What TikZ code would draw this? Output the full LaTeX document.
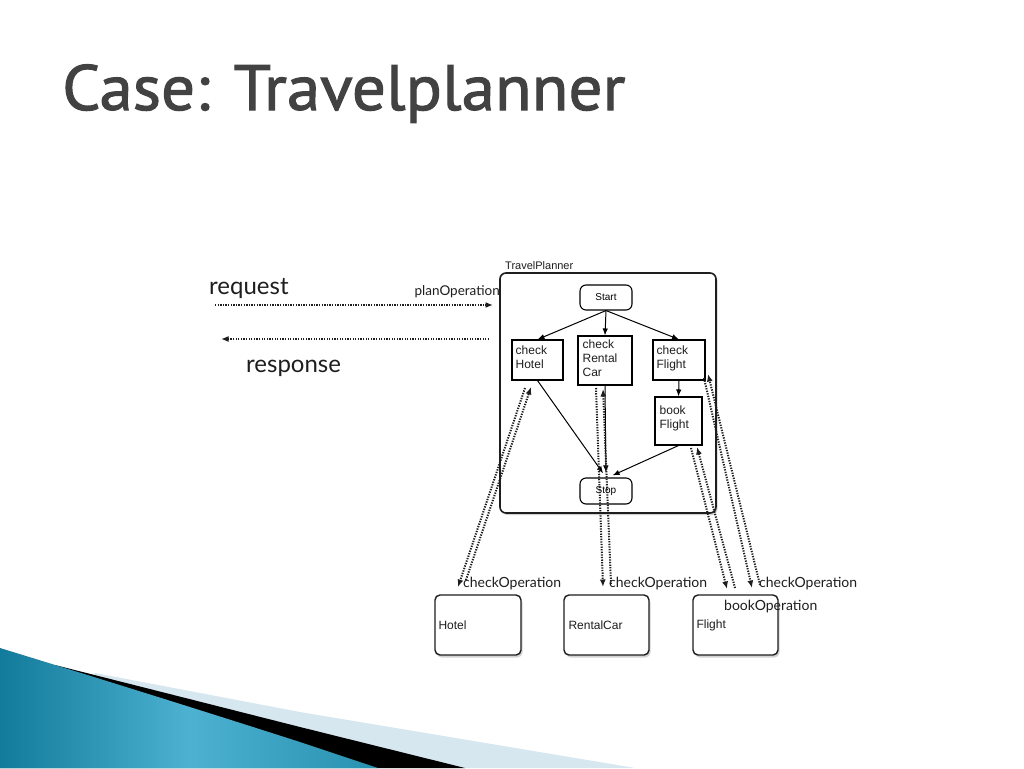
\documentclass[tikz,border=0pt]{standalone}
\usepackage{fontspec}
\setmainfont{Liberation Sans}
\newfontfamily\gill{Lato}
\newfontfamily\titlefont[FakeBold=1.6,FakeStretch=1.05]{PT Sans}
\usetikzlibrary{arrows.meta,shadows,calc}
\definecolor{titlegray}{HTML}{424242}
\definecolor{inkgray}{HTML}{1E1E1E}
\definecolor{lightband}{HTML}{D6E7F0}
\definecolor{tealdark}{HTML}{127A9A}
\definecolor{teallight}{HTML}{4DB2D2}
\definecolor{tealmid}{HTML}{2890B0}
\tikzset{
  outerbox/.style={draw=inkgray, line width=1.6pt, rounded corners=6pt, fill=white,
    drop shadow={shadow xshift=1.5pt, shadow yshift=-2pt, opacity=0.35}, inner sep=0},
  stepbox/.style={draw=black, line width=1.1pt, fill=white, inner sep=0},
  roundbox/.style={draw=black, line width=1.1pt, fill=white, rounded corners=6pt, inner sep=0},
  servbox/.style={draw=inkgray, line width=1.4pt, fill=white, rounded corners=5pt, inner sep=0,
    drop shadow={shadow xshift=1.5pt, shadow yshift=-2.5pt, opacity=0.35}},
  intext/.style={font=\fontsize{12}{14}\selectfont, text=inkgray, align=left, inner sep=0},
  optext/.style={font=\gill\fontsize{14}{16}\selectfont, text=inkgray, inner sep=0},
  sarr/.style={-{Latex[length=7pt,width=5.5pt]}, line width=1pt, draw=black},
  dotarr/.style={-{Latex[length=7.5pt,width=6pt]}, line width=2pt, draw=inkgray,
    dash pattern=on 1.3pt off 1.3pt},
}
\begin{document}
\begin{tikzpicture}[x=1pt,y=-1pt]
\useasboundingbox (0,0) rectangle (1024,768);
\fill[white] (0,0) rectangle (1024,768);

% bottom decoration
\fill[lightband] (95,673) -- (300,712) -- (635,768) -- (0,768) -- cycle;
\fill[black] (55,665) -- (300,727) -- (465,768) -- (0,768) -- cycle;
\shade[left color=tealdark, right color=tealmid, middle color=teallight]
  (0,648) .. controls (150,694) and (250,726) .. (300,742) -- (378,768) -- (0,768) -- cycle;

% title
\node[anchor=base west, text=titlegray, inner sep=0,
  font=\titlefont\fontsize{64}{72}\selectfont] (title) at (62,110) {Case: Travelplanner};

% TravelPlanner
\node[outerbox, minimum width=216, minimum height=240] (tp) at (608,393) {};
\node[anchor=south west, inner sep=0, font=\fontsize{11}{13}\selectfont, text=inkgray]
  (tplabel) at (505,270) {TravelPlanner};

\node[roundbox, minimum width=52, minimum height=25, font=\fontsize{10}{12}\selectfont] (start) at (606,297.5) {Start};
\node[stepbox, minimum width=51, minimum height=40,
  label={[intext, anchor=north west, xshift=4pt, yshift=-6pt]north west:check\\Hotel}] (chotel) at (537.5,360) {};
\node[stepbox, minimum width=54, minimum height=49,
  label={[intext, anchor=north west, xshift=5pt, yshift=-4pt]north west:check\\Rental\\Car}] (crent) at (605,360.5) {};
\node[stepbox, minimum width=52, minimum height=40,
  label={[intext, anchor=north west, xshift=4pt, yshift=-6pt]north west:check\\Flight}] (cflight) at (679,360) {};
\node[stepbox, minimum width=47, minimum height=48,
  label={[intext, anchor=north west, xshift=5pt, yshift=-9pt]north west:book\\Flight}] (bflight) at (678.5,421) {};
\node[roundbox, minimum width=52, minimum height=26, font=\fontsize{10}{12}\selectfont] (stop) at (606,491) {Stop};

% inner flow
\draw[sarr] (start.south) -- (chotel.north);
\draw[sarr] (start.south) -- (crent.north);
\draw[sarr] (start.south) -- (cflight.north);
\draw[sarr] (cflight.south) -- (bflight.north);
\draw[sarr, shorten >=5pt] (chotel.south) -- (stop.north);
\draw[sarr, shorten >=5pt] (crent.south) -- (stop.north);
\draw[sarr, shorten >=5pt] (bflight.south) -- ($(stop.north)+(2,0)$);

% services
\node[servbox, minimum width=86, minimum height=60,
  label={[intext, anchor=west, xshift=4pt]west:Hotel}] (hotel) at (478,625) {};
\node[servbox, minimum width=85, minimum height=60,
  label={[intext, anchor=west, xshift=5pt]west:RentalCar}] (rental) at (606.5,625) {};
\node[servbox, minimum width=85, minimum height=60,
  label={[intext, anchor=west, xshift=4pt]west:Flight}] (flight) at (735.5,625) {};

% operation labels
\node[optext, anchor=west] (hop) at (463,584) {checkOperation};
\node[optext, anchor=west] (rop) at (609,584) {checkOperation};
\node[optext, anchor=west] (fop) at (759,584) {checkOperation};
\node[optext, anchor=west] (bop) at (724,607) {bookOperation};
\node[optext, font=\gill\fontsize{13.5}{15}\selectfont, anchor=east] (pop) at (500,292) {planOperation};

% request / response
\node[anchor=west, inner sep=0, font=\gill\fontsize{24}{28}\selectfont, text=inkgray] (req) at (209,289) {request};
\node[anchor=west, inner sep=0, font=\gill\fontsize{24}{28}\selectfont, text=inkgray] (resp) at (246,368) {response};

% port coordinates
\coordinate (reqS) at (215,305);  \coordinate (reqE) at (493,305);
\coordinate (respS) at (489,339); \coordinate (respE) at (221,339);
\coordinate (hA) at (525,388); \coordinate (hB) at (458,587);
\coordinate (hC) at (466,580); \coordinate (hD) at (531,387);
\coordinate (rA) at (596,388); \coordinate (rB) at (603,587);
\coordinate (rC) at (611,584); \coordinate (rD) at (603,389);
\coordinate (bA) at (691,448); \coordinate (bB) at (727,589);
\coordinate (bC) at (735,588); \coordinate (bD) at (697,447);
\coordinate (fA) at (704,378); \coordinate (fB) at (752,588);
\coordinate (fC) at (760,585); \coordinate (fD) at (708,374);

\draw[dotarr] (reqS) -- (reqE);
\draw[dotarr] (respS) -- (respE);
\draw[dotarr] (hA) -- (hB);
\draw[dotarr] (hC) -- (hD);
\draw[dotarr] (rA) -- (rB);
\draw[dotarr] (rC) -- (rD);
\draw[dotarr] (bA) -- (bB);
\draw[dotarr] (bC) -- (bD);
\draw[dotarr] (fA) -- (fB);
\draw[dotarr] (fC) -- (fD);
\end{tikzpicture}
\end{document}
